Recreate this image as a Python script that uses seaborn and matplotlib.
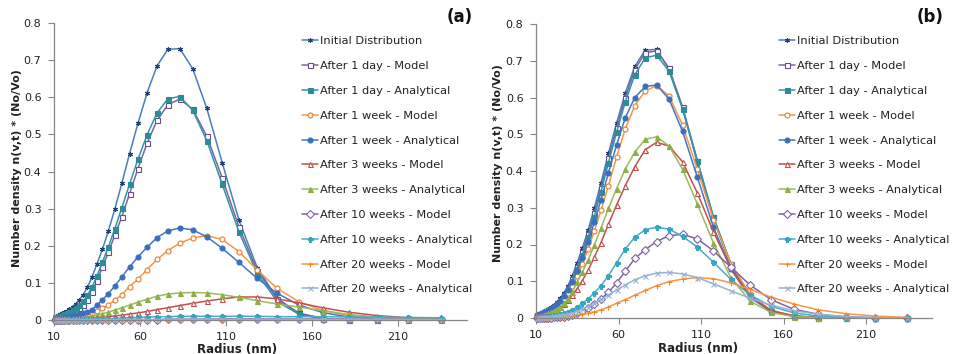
import matplotlib
matplotlib.use("Agg")
import matplotlib.pyplot as plt
import seaborn as sns

# radius grid (nm) of the model bins
RADIUS = [10.4, 11.3, 12.4, 13.5, 14.7, 16.0, 17.5, 19.0, 20.8, 22.7,
          24.7, 26.9, 29.4, 32.0, 34.9, 38.1, 41.6, 45.3, 49.4, 53.9,
          58.8, 64.1, 69.9, 76.2, 83.1, 90.6, 98.8, 107.8, 117.5, 128.1,
          139.7, 152.4, 166.2, 181.2, 197.6, 215.5, 235.0]

SERIES_NAMES = ["Initial Distribution",
                "After 1 day - Model", "After 1 day - Analytical",
                "After 1 week - Model", "After 1 week - Analytical",
                "After 3 weeks - Model", "After 3 weeks - Analytical",
                "After 10 weeks - Model", "After 10 weeks - Analytical",
                "After 20 weeks - Model", "After 20 weeks - Analytical"]

INITIAL = [0.009, 0.011, 0.013, 0.015, 0.018, 0.021, 0.025, 0.030, 0.036, 0.044,
           0.054, 0.068, 0.088, 0.115, 0.150, 0.190, 0.240, 0.298, 0.368, 0.448,
           0.530, 0.612, 0.685, 0.729, 0.731, 0.677, 0.570, 0.423, 0.269, 0.141,
           0.058, 0.018, 0.004, 0.001, 0.000, 0.000, 0.000]

# ---- panel (a) ----
A_DAY1_MODEL = [0.005, 0.006, 0.007, 0.008, 0.010, 0.012, 0.014, 0.017, 0.021, 0.025,
                0.031, 0.040, 0.055, 0.075, 0.105, 0.142, 0.182, 0.228, 0.278, 0.340,
                0.408, 0.476, 0.538, 0.580, 0.595, 0.568, 0.495, 0.382, 0.250, 0.133,
                0.056, 0.018, 0.004, 0.001, 0.000, 0.000, 0.000]
A_DAY1_ANALYT = [0.008, 0.009, 0.010, 0.012, 0.014, 0.016, 0.019, 0.022, 0.027, 0.033,
                 0.040, 0.050, 0.066, 0.088, 0.118, 0.155, 0.197, 0.245, 0.302, 0.366,
                 0.433, 0.499, 0.558, 0.596, 0.602, 0.565, 0.483, 0.365, 0.237, 0.125,
                 0.050, 0.015, 0.003, 0.001, 0.000, 0.000, 0.000]
A_WEEK1_MODEL = [0.001, 0.001, 0.002, 0.002, 0.003, 0.003, 0.004, 0.005, 0.006, 0.007,
                 0.009, 0.011, 0.014, 0.018, 0.024, 0.031, 0.041, 0.053, 0.068, 0.090,
                 0.110, 0.136, 0.163, 0.187, 0.207, 0.221, 0.227, 0.217, 0.184, 0.135,
                 0.085, 0.049, 0.026, 0.012, 0.005, 0.002, 0.001]
A_WEEK1_ANALYT = [0.002, 0.002, 0.003, 0.003, 0.004, 0.005, 0.006, 0.008, 0.010, 0.012,
                  0.015, 0.018, 0.022, 0.028, 0.040, 0.054, 0.071, 0.091, 0.116, 0.143,
                  0.170, 0.196, 0.222, 0.240, 0.248, 0.243, 0.224, 0.193, 0.155, 0.112,
                  0.072, 0.040, 0.020, 0.008, 0.003, 0.001, 0.000]
A_WEEK3_MODEL = [0.000, 0.000, 0.000, 0.001, 0.001, 0.001, 0.001, 0.001, 0.002, 0.002,
                 0.003, 0.003, 0.004, 0.005, 0.006, 0.007, 0.009, 0.011, 0.013, 0.016,
                 0.019, 0.023, 0.028, 0.033, 0.039, 0.045, 0.051, 0.057, 0.062, 0.062,
                 0.057, 0.046, 0.033, 0.021, 0.012, 0.006, 0.003]
A_WEEK3_ANALYT = [0.001, 0.001, 0.001, 0.001, 0.001, 0.002, 0.002, 0.003, 0.003, 0.004,
                  0.005, 0.006, 0.008, 0.010, 0.013, 0.017, 0.021, 0.027, 0.033, 0.040,
                  0.048, 0.056, 0.064, 0.070, 0.073, 0.074, 0.073, 0.068, 0.061, 0.052,
                  0.043, 0.035, 0.025, 0.015, 0.008, 0.004, 0.002]
A_WEEK10_MODEL = [0.000, 0.000, 0.000, 0.000, 0.000, 0.000, 0.000, 0.000, 0.000, 0.000,
                  0.000, 0.000, 0.000, 0.000, 0.000, 0.000, 0.000, 0.001, 0.001, 0.001,
                  0.001, 0.001, 0.001, 0.002, 0.002, 0.002, 0.002, 0.003, 0.003, 0.003,
                  0.003, 0.003, 0.003, 0.003, 0.002, 0.002, 0.002]
A_WEEK10_ANALYT = [0.000, 0.000, 0.000, 0.000, 0.000, 0.000, 0.000, 0.000, 0.000, 0.000,
                   0.000, 0.001, 0.001, 0.001, 0.002, 0.002, 0.003, 0.004, 0.005, 0.006,
                   0.007, 0.008, 0.009, 0.009, 0.010, 0.010, 0.010, 0.010, 0.010, 0.010,
                   0.009, 0.009, 0.009, 0.008, 0.008, 0.007, 0.006]
A_WEEK20_MODEL = [0.000, 0.000, 0.000, 0.000, 0.000, 0.000, 0.000, 0.000, 0.000, 0.000,
                  0.000, 0.000, 0.000, 0.000, 0.000, 0.000, 0.000, 0.000, 0.000, 0.000,
                  0.000, 0.000, 0.000, 0.000, 0.000, 0.000, 0.000, 0.000, 0.001, 0.001,
                  0.001, 0.001, 0.001, 0.001, 0.001, 0.001, 0.001]
A_WEEK20_ANALYT = [0.000, 0.000, 0.000, 0.000, 0.000, 0.000, 0.000, 0.000, 0.000, 0.000,
                   0.000, 0.000, 0.000, 0.000, 0.000, 0.000, 0.000, 0.001, 0.001, 0.001,
                   0.001, 0.001, 0.001, 0.002, 0.002, 0.002, 0.002, 0.002, 0.002, 0.002,
                   0.002, 0.002, 0.002, 0.002, 0.002, 0.001, 0.001]

# ---- panel (b) ----
B_DAY1_MODEL = [0.008, 0.010, 0.012, 0.014, 0.016, 0.019, 0.023, 0.027, 0.033, 0.040,
                0.050, 0.063, 0.081, 0.106, 0.140, 0.180, 0.228, 0.285, 0.355, 0.435,
                0.518, 0.600, 0.676, 0.722, 0.727, 0.680, 0.575, 0.428, 0.274, 0.145,
                0.060, 0.019, 0.005, 0.001, 0.000, 0.000, 0.000]
B_DAY1_ANALYT = [0.008, 0.009, 0.011, 0.013, 0.015, 0.018, 0.021, 0.025, 0.031, 0.038,
                 0.047, 0.060, 0.078, 0.102, 0.134, 0.172, 0.220, 0.276, 0.344, 0.422,
                 0.505, 0.588, 0.662, 0.708, 0.715, 0.672, 0.570, 0.428, 0.276, 0.148,
                 0.062, 0.020, 0.005, 0.001, 0.000, 0.000, 0.000]
B_WEEK1_MODEL = [0.006, 0.007, 0.009, 0.011, 0.013, 0.015, 0.018, 0.022, 0.027, 0.033,
                 0.041, 0.052, 0.067, 0.088, 0.115, 0.148, 0.188, 0.236, 0.293, 0.360,
                 0.437, 0.515, 0.578, 0.618, 0.632, 0.605, 0.525, 0.405, 0.268, 0.147,
                 0.064, 0.021, 0.006, 0.001, 0.000, 0.000, 0.000]
B_WEEK1_ANALYT = [0.007, 0.009, 0.010, 0.012, 0.015, 0.017, 0.021, 0.025, 0.031, 0.038,
                  0.047, 0.059, 0.076, 0.099, 0.128, 0.164, 0.208, 0.260, 0.322, 0.395,
                  0.470, 0.545, 0.600, 0.630, 0.634, 0.596, 0.508, 0.383, 0.248, 0.133,
                  0.056, 0.018, 0.005, 0.001, 0.000, 0.000, 0.000]
B_WEEK3_MODEL = [0.002, 0.003, 0.004, 0.005, 0.006, 0.008, 0.010, 0.013, 0.018, 0.023,
                 0.030, 0.039, 0.050, 0.063, 0.080, 0.102, 0.130, 0.165, 0.205, 0.255,
                 0.307, 0.360, 0.412, 0.458, 0.478, 0.468, 0.425, 0.340, 0.235, 0.135,
                 0.060, 0.020, 0.006, 0.001, 0.000, 0.000, 0.000]
B_WEEK3_ANALYT = [0.004, 0.005, 0.006, 0.007, 0.009, 0.011, 0.013, 0.016, 0.020, 0.025,
                  0.031, 0.040, 0.052, 0.072, 0.098, 0.125, 0.158, 0.198, 0.245, 0.298,
                  0.352, 0.405, 0.452, 0.486, 0.493, 0.468, 0.405, 0.310, 0.205, 0.110,
                  0.046, 0.015, 0.004, 0.001, 0.000, 0.000, 0.000]
B_WEEK10_MODEL = [0.000, 0.000, 0.001, 0.001, 0.001, 0.001, 0.001, 0.001, 0.002, 0.002,
                  0.003, 0.004, 0.006, 0.009, 0.013, 0.019, 0.027, 0.038, 0.052, 0.070,
                  0.095, 0.127, 0.162, 0.186, 0.208, 0.224, 0.228, 0.215, 0.183, 0.138,
                  0.090, 0.050, 0.024, 0.010, 0.003, 0.001, 0.000]
B_WEEK10_ANALYT = [0.001, 0.001, 0.001, 0.002, 0.002, 0.003, 0.004, 0.005, 0.006, 0.008,
                   0.010, 0.013, 0.017, 0.022, 0.030, 0.040, 0.052, 0.068, 0.088, 0.115,
                   0.150, 0.188, 0.220, 0.240, 0.247, 0.242, 0.222, 0.193, 0.152, 0.105,
                   0.063, 0.032, 0.014, 0.005, 0.002, 0.000, 0.000]
B_WEEK20_MODEL = [0.000, 0.000, 0.000, 0.001, 0.001, 0.001, 0.001, 0.002, 0.002, 0.003,
                  0.003, 0.004, 0.005, 0.006, 0.008, 0.010, 0.013, 0.017, 0.022, 0.030,
                  0.040, 0.050, 0.062, 0.075, 0.088, 0.099, 0.106, 0.110, 0.107, 0.096,
                  0.078, 0.057, 0.038, 0.022, 0.012, 0.005, 0.002]
B_WEEK20_ANALYT = [0.001, 0.001, 0.001, 0.002, 0.002, 0.003, 0.003, 0.004, 0.005, 0.006,
                   0.007, 0.009, 0.011, 0.014, 0.018, 0.024, 0.031, 0.040, 0.051, 0.063,
                   0.076, 0.090, 0.104, 0.115, 0.122, 0.124, 0.120, 0.110, 0.093, 0.074,
                   0.054, 0.035, 0.020, 0.010, 0.004, 0.001, 0.000]

PANEL_A = [INITIAL, A_DAY1_MODEL, A_DAY1_ANALYT, A_WEEK1_MODEL, A_WEEK1_ANALYT,
           A_WEEK3_MODEL, A_WEEK3_ANALYT, A_WEEK10_MODEL, A_WEEK10_ANALYT,
           A_WEEK20_MODEL, A_WEEK20_ANALYT]
PANEL_B = [INITIAL, B_DAY1_MODEL, B_DAY1_ANALYT, B_WEEK1_MODEL, B_WEEK1_ANALYT,
           B_WEEK3_MODEL, B_WEEK3_ANALYT, B_WEEK10_MODEL, B_WEEK10_ANALYT,
           B_WEEK20_MODEL, B_WEEK20_ANALYT]

X_TICKS = [10, 60, 110, 160, 210]
Y_TICKS = [0, 0.1, 0.2, 0.3, 0.4, 0.5, 0.6, 0.7, 0.8]
Y_TICK_LABELS = ["0", "0.1", "0.2", "0.3", "0.4", "0.5", "0.6", "0.7", "0.8"]
Y_LABEL = "Number density n(v,t) * (No/Vo)"
X_LABEL = "Radius (nm)"

# excel-ish series styles: (line colour, marker, marker face, marker edge)
STYLES = [
    ("#4A7EBB", (6, 2, 0), "#24407A", "#24407A"),
    ("#7E649E", "s", "white", "#6A4C8C"),
    ("#2E97A6", "s", "#2E8C99", "#2E8C99"),
    ("#F79646", "o", "white", "#E67E2E"),
    ("#4378C0", "o", "#3A6FBF", "#3A6FBF"),
    ("#C0504D", "^", "white", "#C0504D"),
    ("#9BBB59", "^", "#8DB045", "#8DB045"),
    ("#8064A2", "D", "white", "#8064A2"),
    ("#4BACC6", "P", "#35A6C2", "#35A6C2"),
    ("#F79646", "+", "#F7861F", "#F7861F"),
    ("#95B3D7", "x", "#95B3D7", "#95B3D7"),
]

sns.set_style("ticks")
plt.rcParams["font.family"] = ["DejaVu Sans"]

fig = plt.figure(figsize=(9.56, 3.54), dpi=100)
W, H = 956, 354

# panel boxes in pixels: left, right, top, bottom
boxes = [(54, 467, 23, 320), (536, 932, 24, 318)]
legend_pos = [(300, 34), (777, 34)]
panel_tags = [("(a)", 460, 17), ("(b)", 930, 17)]
xlabel_pos = [(0.443, -0.076), (0.409, -0.080)]
ylabel_pos = [(-0.078, 0.512), (-0.083, 0.527)]

for i, panel in enumerate([PANEL_A, PANEL_B]):
    l, r, t, b = boxes[i]
    ax = fig.add_axes([l / W, 1 - b / H, (r - l) / W, (b - t) / H])
    for name, vals, (lc, mk, mfc, mec) in zip(SERIES_NAMES, panel, STYLES):
        sns.lineplot(x=RADIUS, y=vals, ax=ax, color=lc, lw=1.1, marker=mk,
                     markersize=3.6, mfc=mfc, mec=mec, mew=0.8,
                     errorbar=None, label=name, clip_on=False)
    ax.set_xlim(10, 250)
    ax.set_ylim(0, 0.8)
    ax.set_xticks(X_TICKS)
    ax.set_yticks(Y_TICKS)
    ax.set_yticklabels(Y_TICK_LABELS)
    ax.tick_params(axis="both", direction="out", length=4, width=0.8,
                   color="#868686", labelsize=8, labelcolor="#222222", pad=5)
    ax.tick_params(axis="x", pad=4.5)
    for side in ["top", "right"]:
        ax.spines[side].set_visible(False)
    for side in ["left", "bottom"]:
        ax.spines[side].set_color("#868686")
        ax.spines[side].set_linewidth(0.9)
    ax.set_xlabel(X_LABEL, fontsize=8.5, fontweight="bold", color="#222222")
    ax.set_ylabel(Y_LABEL, fontsize=8, fontweight="bold", color="#222222")
    ax.xaxis.set_label_coords(*xlabel_pos[i])
    ax.yaxis.set_label_coords(*ylabel_pos[i])

    handles, labels = ax.get_legend_handles_labels()
    lx, ly = legend_pos[i]
    ax.legend(handles, labels, loc="upper left",
              bbox_to_anchor=(lx / W, 1 - ly / H), bbox_transform=fig.transFigure,
              frameon=True, facecolor="white", edgecolor="none", framealpha=1,
              fontsize=8.2, handlelength=1.4, handletextpad=0.15,
              labelspacing=1.3, borderpad=0.2, borderaxespad=0,
              labelcolor="#222222")

    tag, tx, ty = panel_tags[i]
    fig.text(tx / W, 1 - ty / H, tag, ha="center", va="center",
             fontsize=12, fontweight="bold", color="#111111")

fig.savefig("out.png", dpi=100)
